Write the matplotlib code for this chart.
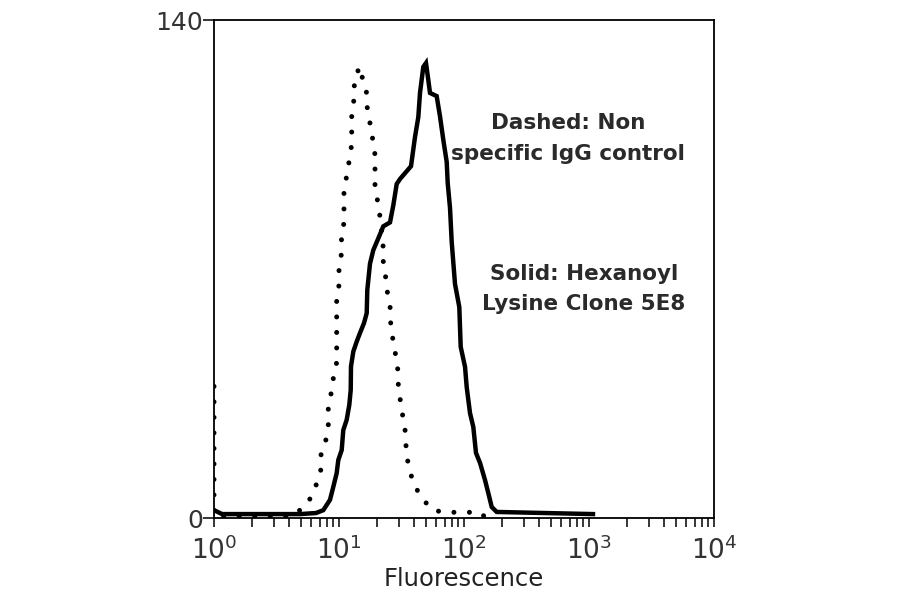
import matplotlib
matplotlib.use('Agg')
import matplotlib.pyplot as plt
from matplotlib.ticker import FixedLocator, NullFormatter, FixedFormatter

# Dotted series: non-specific IgG control
dotted_x = [1.0, 1.0, 4.0, 4.59, 5.68, 6.46, 7.14, 7.14, 7.83, 8.21, 8.21, 8.63, 9.01,
            9.58, 9.58, 9.58, 9.58, 9.58, 10.0, 10.0, 10.47, 10.47, 10.96, 10.96, 10.96,
            11.52, 12.09, 12.64, 12.64, 12.64, 13.26, 13.26, 14.54, 15.28, 16.66, 16.84,
            17.70, 18.60, 19.41, 19.41, 19.41, 20.40, 21.28, 22.0, 22.62, 22.62, 23.77,
            24.53, 25.92, 25.92, 27.19, 28.58, 29.82, 29.82, 31.33, 32.69, 34.36, 34.36,
            36.11, 39.30, 45.88, 56.82, 70.0, 134.0, 150.0]
dotted_y = [37.0, 0.5, 0.5, 1.4, 4.4, 8.6, 13.0, 17.5, 21.7, 26.1, 30.6, 34.9, 39.3,
            43.8, 48.2, 52.4, 56.9, 61.3, 65.5, 70.0, 74.4, 78.6, 83.1, 87.5, 91.9,
            96.2, 100.6, 105.1, 109.4, 113.8, 118.2, 122.5, 126.9, 124.1, 119.4, 115.2,
            111.0, 106.5, 102.1, 97.8, 93.3, 88.9, 84.7, 80.2, 75.8, 71.6, 67.1,
            62.7, 58.3, 53.8, 49.6, 45.2, 40.7, 36.5, 32.0, 27.6, 23.1, 18.9,
            14.4, 9.9, 5.5, 2.2, 1.6, 1.6, 0.0]

# Solid series: Hexanoyl Lysine Clone 5E8
solid_x = [1.0, 1.16, 4.88, 6.55, 7.49, 8.47, 9.01, 9.58, 9.87, 10.51, 10.82, 11.52,
           12.09, 12.41, 12.47, 13.02, 13.86, 14.72, 15.85, 16.66, 16.84, 17.70, 18.81,
           20.62, 22.62, 25.59, 27.19, 28.95, 30.76, 37.67, 40.55, 43.10, 44.46, 47.25,
           49.66, 51.82, 53.46, 60.46, 64.27, 68.31, 72.72, 74.06, 77.27, 79.73, 84.72,
           91.71, 94.10, 101.9, 105.1, 111.7, 118.7, 124.7, 134.3, 147.2, 156.5, 166.6,
           182.7, 1076.0]
solid_y = [2.2, 1.1, 1.1, 1.4, 2.2, 5.1, 8.8, 12.6, 16.3, 19.1, 24.7, 27.6,
           31.8, 36.0, 42.6, 46.8, 49.6, 52.0, 54.8, 57.6, 64.1, 71.5, 75.3,
           78.6, 82.0, 83.1, 87.9, 93.9, 95.3, 98.9, 107.1, 112.7, 119.5, 126.8,
           127.9, 123.1, 119.5, 118.6, 112.9, 106.3, 100.1, 94.2, 87.2, 77.6, 65.8,
           59.3, 48.1, 42.5, 36.8, 29.5, 25.6, 18.3, 15.5, 10.7, 7.0, 3.1,
           1.7, 1.1]

x_tick_values = [1, 10, 100, 1000, 10000]
x_tick_labels = [r'$10^{0}$', r'$10^{1}$', r'$10^{2}$', r'$10^{3}$', r'$10^{4}$']
y_tick_values = [0, 140]
y_tick_labels = ['0', '140']
x_label = 'Fluorescence'
note_dashed = 'Dashed: Non\nspecific IgG control'
note_solid = 'Solid: Hexanoyl\nLysine Clone 5E8'

fig = plt.figure(figsize=(9, 5.94), dpi=100)
ax = fig.add_axes([214/900, 76/594, 500/900, 498/594])

ax.plot(dotted_x, dotted_y, color='black', lw=3.6,
        linestyle=(0, (0.001, 3.1)), dash_capstyle='round')
ax.plot(solid_x, solid_y, color='black', lw=3.2, solid_joinstyle='miter')

ax.set_xscale('log')
ax.set_xlim(1, 1e4)
ax.set_ylim(0, 140)

ax.xaxis.set_major_locator(FixedLocator(x_tick_values))
ax.xaxis.set_major_formatter(FixedFormatter(x_tick_labels))
minors = [m * 10**k for k in range(4) for m in range(2, 10)]
ax.xaxis.set_minor_locator(FixedLocator(minors))
ax.xaxis.set_minor_formatter(NullFormatter())
ax.yaxis.set_major_locator(FixedLocator(y_tick_values))
ax.yaxis.set_major_formatter(FixedFormatter(y_tick_labels))
ax.yaxis.set_minor_locator(FixedLocator([]))

ax.tick_params(axis='x', which='both', direction='out', length=6.5, width=1.1,
               top=False, labelsize=19, colors='black', pad=7)
ax.tick_params(axis='x', which='major', labelcolor='#333333')
ax.tick_params(axis='y', which='major', direction='out', length=8, width=1.1,
               right=False, labelsize=18, pad=0, labelcolor='#333333')
for s in ax.spines.values():
    s.set_linewidth(1.3)
    s.set_color('black')

ax.set_xlabel(x_label, fontsize=17.5, color='#222222', labelpad=1)

ax.text(0.708, 0.762, note_dashed, transform=ax.transAxes, ha='center', va='center',
        fontsize=15.5, fontweight='bold', color='#2a2a2a', linespacing=1.65,
        family='DejaVu Sans')
ax.text(0.74, 0.46, note_solid, transform=ax.transAxes, ha='center', va='center',
        fontsize=15.5, fontweight='bold', color='#2a2a2a', linespacing=1.65,
        family='DejaVu Sans')

fig.savefig('out.png', dpi=100)
